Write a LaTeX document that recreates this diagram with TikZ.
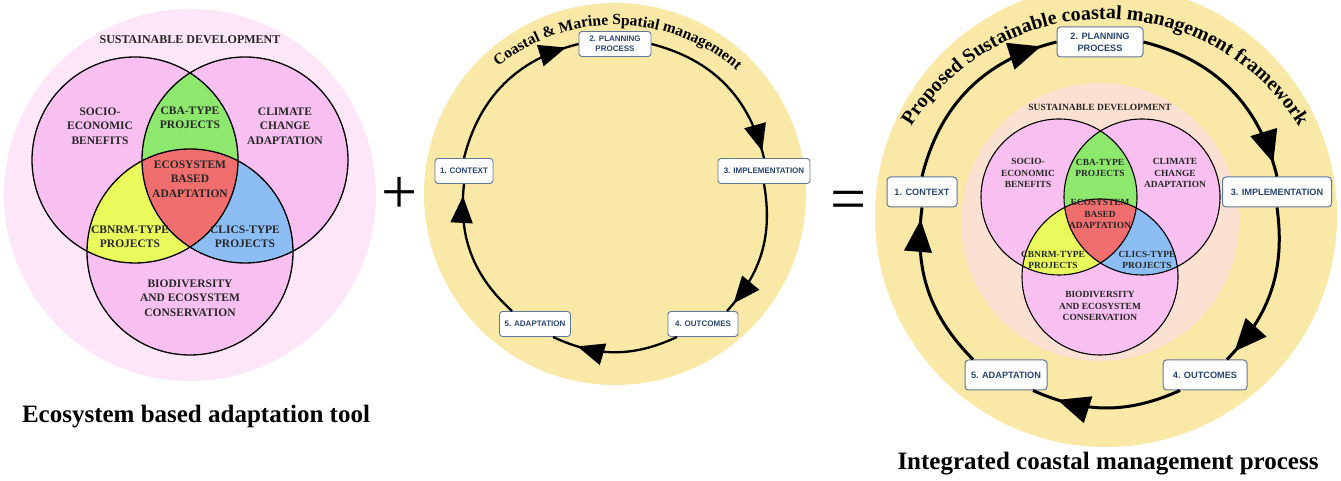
\documentclass[tikz,border=0pt]{standalone}
\usepackage{fontspec}
\setmainfont{Liberation Serif}
\setsansfont{Liberation Sans}
\usetikzlibrary{arrows.meta,decorations.markings,decorations.text}
\definecolor{bgpink}{RGB}{252,230,247}
\definecolor{vpink}{RGB}{247,192,240}
\definecolor{vgreen}{RGB}{142,232,110}
\definecolor{vyellow}{RGB}{232,250,92}
\definecolor{vblue}{RGB}{140,190,245}
\definecolor{vred}{RGB}{240,110,110}
\definecolor{sand}{RGB}{250,232,166}
\definecolor{peach}{RGB}{251,225,210}
\definecolor{boxline}{RGB}{95,120,150}
\definecolor{boxtext}{RGB}{40,70,115}
\newcommand\myvenn[3]{%
  \fill[vpink] (#1a) circle[radius=#2] (#1b) circle[radius=#2] (#1c) circle[radius=#2];
  \begin{scope}\clip (#1a) circle[radius=#2];
    \fill[vgreen] (#1b) circle[radius=#2];
    \fill[vyellow] (#1c) circle[radius=#2];
  \end{scope}
  \begin{scope}\clip (#1b) circle[radius=#2];
    \fill[vblue] (#1c) circle[radius=#2];
  \end{scope}
  \begin{scope}\clip (#1a) circle[radius=#2]; \clip (#1b) circle[radius=#2];
    \fill[vred] (#1c) circle[radius=#2];
  \end{scope}
  \draw[line width=#3] (#1a) circle[radius=#2] (#1b) circle[radius=#2] (#1c) circle[radius=#2];
}
\begin{document}
\begin{tikzpicture}[x=1pt,y=1pt,
  vtextL/.style={font=\bfseries\fontsize{11.5}{14.5}\selectfont, align=center, text=black!85, inner sep=0pt},
  vtextR/.style={font=\bfseries\fontsize{9.4}{11.5}\selectfont, align=center, text=black!85, inner sep=0pt},
  boxM/.style={draw=boxline, fill=white, rounded corners=3pt, line width=0.9pt,
    font=\sffamily\bfseries\fontsize{8}{10}\selectfont, text=boxtext, align=center,
    inner sep=0pt, minimum height=25pt},
  boxR/.style={draw=boxline, fill=white, rounded corners=3.5pt, line width=1pt,
    font=\sffamily\bfseries\fontsize{9.2}{12}\selectfont, text=boxtext, align=center,
    inner sep=0pt, minimum height=30pt},
  cycM/.style={line width=2.3pt, postaction={decorate},
    decoration={markings, mark=at position #1 with {\arrow[scale=1.35]{Triangle[length=20pt 0,width=16pt 0]}}}},
  cycR/.style={line width=3pt, postaction={decorate},
    decoration={markings, mark=at position #1 with {\arrow[scale=1.35]{Triangle[length=24pt 0,width=20pt 0]}}}},
  title/.style={font=\bfseries\fontsize{25}{28}\selectfont, inner sep=0pt},
  sign/.style={font=\fontsize{64}{64}\selectfont, inner sep=0pt}
]
\useasboundingbox (0,0) rectangle (1341,481);
\fill[white] (0,0) rectangle (1341,481);
\begin{scope}
\clip (0,0) rectangle (1341,481);
% backgrounds
\fill[bgpink] (190,286) circle[radius=186];
\fill[sand] (615,287) circle[radius=191];
\fill[sand] (1106,265) circle[radius=231];
\fill[peach] (1100,259) circle[radius=139];
\end{scope}

% left venn
\coordinate (La) at (135,321);
\coordinate (Lb) at (245,321);
\coordinate (Lc) at (190,229);
\myvenn{L}{103}{1.3pt}
\node[vtextL, font=\bfseries\fontsize{12}{14}\selectfont] (lsd) at (190,441) {SUSTAINABLE DEVELOPMENT};
\node[vtextL] (lsoc) at (100,355) {SOCIO-\\ECONOMIC\\BENEFITS};
\node[vtextL] (lcba) at (190,363) {CBA-TYPE\\PROJECTS};
\node[vtextL] (lcca) at (285,355) {CLIMATE\\CHANGE\\ADAPTATION};
\node[vtextL] (leba) at (190,302) {ECOSYSTEM\\BASED\\ADAPTATION};
\node[vtextL] (lcbn) at (130,244) {CBNRM-TYPE\\PROJECTS};
\node[vtextL] (lcli) at (245,244) {CLICS-TYPE\\PROJECTS};
\node[vtextL] (lbio) at (190,183) {BIODIVERSITY\\AND ECOSYSTEM\\CONSERVATION};

% right venn
\coordinate (Ra) at (1059,284);
\coordinate (Rb) at (1142,284);
\coordinate (Rc) at (1100,204);
\myvenn{R}{78}{1.1pt}
\node[vtextR, font=\bfseries\fontsize{9.5}{11}\selectfont] (rsd) at (1100,374) {SUSTAINABLE DEVELOPMENT};
\node[vtextR] (rsoc) at (1028,308) {SOCIO-\\ECONOMIC\\BENEFITS};
\node[vtextR] (rcba) at (1100,313) {CBA-TYPE\\PROJECTS};
\node[vtextR] (rcca) at (1175,308) {CLIMATE\\CHANGE\\ADAPTATION};
\node[vtextR] (reba) at (1100,267) {ECOSYSTEM\\BASED\\ADAPTATION};
\node[vtextR] (rcbn) at (1053,221) {CBNRM-TYPE\\PROJECTS};
\node[vtextR] (rcli) at (1147,221) {CLICS-TYPE\\PROJECTS};
\node[vtextR] (rbio) at (1100,175) {BIODIVERSITY\\AND ECOSYSTEM\\CONSERVATION};

% middle cycle
\node[boxM, minimum width=72pt] (mplan) at (615,437) {2. PLANNING\\PROCESS};
\node[boxM, minimum width=58pt] (mctx) at (464,310) {1. CONTEXT};
\node[boxM, minimum width=92pt] (mimpl) at (764,310) {3. IMPLEMENTATION};
\node[boxM, minimum width=70pt] (mout) at (703,157) {4. OUTCOMES};
\node[boxM, minimum width=71pt] (madap) at (535,157) {5. ADAPTATION};
\draw[cycM=-13pt] (mctx.north) to[bend left=31] (mplan.west);
\draw[cycM=-7pt] (mplan.east) to[bend left=31] (mimpl.north);
\draw[cycM=-10pt] (mimpl.south) to[bend left=26] ([xshift=24pt]mout.north);
\draw[cycM=-26pt] ([xshift=-26pt]mout.south) to[bend left=25] ([xshift=18pt]madap.south);
\draw[cycM=-12pt] ([xshift=-23pt]madap.north) to[bend left=27] (mctx.south);
\path[decorate, decoration={text along path, text align=center,
  text={|\bfseries\fontsize{15.5}{16}\selectfont|Coastal {\&} Marine Spatial management}}]
  ([shift={(140:185)}]615,271) arc[start angle=140, end angle=38, radius=185];

% right cycle
\node[boxR, minimum width=86pt] (rplan) at (1100,439) {2. PLANNING\\PROCESS};
\node[boxR, minimum width=70pt] (rctx) at (922,289) {1. CONTEXT};
\node[boxR, minimum width=109pt] (rimpl) at (1277,289) {3. IMPLEMENTATION};
\node[boxR, minimum width=84pt] (rout) at (1205,106) {4. OUTCOMES};
\node[boxR, minimum width=82pt] (radap) at (1006,106) {5. ADAPTATION};
\draw[cycR=-16pt] (rctx.north) to[bend left=31] (rplan.west);
\draw[cycR=-14pt] (rplan.east) to[bend left=31] (rimpl.north);
\draw[cycR=-11pt] (rimpl.south) to[bend left=26] ([xshift=22pt]rout.north);
\draw[cycR=-26pt] ([xshift=-25pt]rout.south) to[bend left=24] ([xshift=27pt]radap.south);
\draw[cycR=-12pt] ([xshift=-33pt]radap.north) to[bend left=26] (rctx.south);
\path[decorate, decoration={text along path, text align=center,
  text={|\bfseries\fontsize{20}{22}\selectfont|Proposed Sustainable coastal management framework}}]
  ([shift={(152:228)}]1105,234) arc[start angle=152, end angle=28, radius=228];

% signs and titles
\node[sign, anchor=base] (plus) at (400,267) {+};
\node[sign, anchor=base] (equals) at (849,260.5) {=};
\node[title, anchor=base] (ltitle) at (196,58) {Ecosystem based adaptation tool};
\node[title, anchor=base] (rtitle) at (1108,11) {Integrated coastal management process};
\end{tikzpicture}
\end{document}
